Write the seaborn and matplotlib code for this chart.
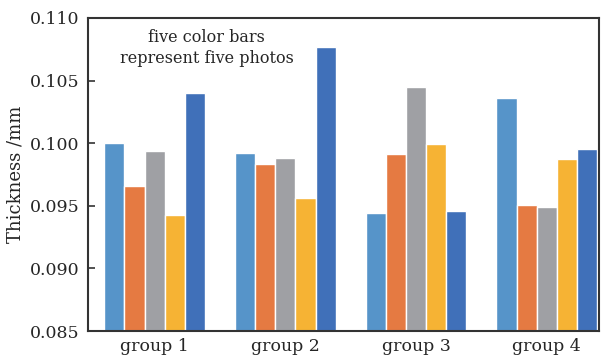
import matplotlib
matplotlib.use("Agg")
import matplotlib.pyplot as plt
import seaborn as sns
import pandas as pd

groups = ["group 1", "group 2", "group 3", "group 4"]
photos = ["photo 1", "photo 2", "photo 3", "photo 4", "photo 5"]
photo1 = [0.1000, 0.0992, 0.0944, 0.1036]
photo2 = [0.0966, 0.0983, 0.0991, 0.0951]
photo3 = [0.0994, 0.0988, 0.1045, 0.0949]
photo4 = [0.0943, 0.0956, 0.0999, 0.0987]
photo5 = [0.1040, 0.1077, 0.0946, 0.0995]
colors = ["#5694C9", "#E57A42", "#9FA0A4", "#F6B334", "#4070B9"]
yticks = [0.085, 0.090, 0.095, 0.100, 0.105, 0.110]

rows = []
for name, vals in zip(photos, [photo1, photo2, photo3, photo4, photo5]):
    for g, v in zip(groups, vals):
        rows.append({"group": g, "photo": name, "thickness": v})
df = pd.DataFrame(rows)

sns.set_theme(style="white")
plt.rcParams["font.family"] = ["DejaVu Serif"]

fig = plt.figure(figsize=(6.01, 3.59), dpi=100)
ax = fig.add_axes([88 / 601, 1 - 331 / 359, 511 / 601, 313 / 359])

sns.barplot(data=df, x="group", y="thickness", hue="photo", hue_order=photos,
            palette=colors, saturation=1, width=0.77, edgecolor="white",
            linewidth=1.0, legend=False, ax=ax)

ax.set_ylim(0.085, 0.110)
ax.set_yticks(yticks)
ax.set_yticklabels([f"{t:.3f}" for t in yticks])
ax.set_xlim(-0.51, 3.40)
ax.set_xlabel("")
ax.set_ylabel("Thickness /mm", fontsize=13, labelpad=4)

ax.tick_params(axis="y", direction="in", length=5, width=1.2, color="#333333",
               labelsize=12.5, pad=6, left=True)
ax.tick_params(axis="x", length=0, labelsize=12.5, pad=5)
for s in ax.spines.values():
    s.set_color("#333333")
    s.set_linewidth(1.5)
    s.set_visible(True)

ax.text(0.40, 0.1076, "five color bars\nrepresent five photos", ha="center",
        va="center", fontsize=11.5, linespacing=1.35)

fig.savefig("out.png", dpi=100)
